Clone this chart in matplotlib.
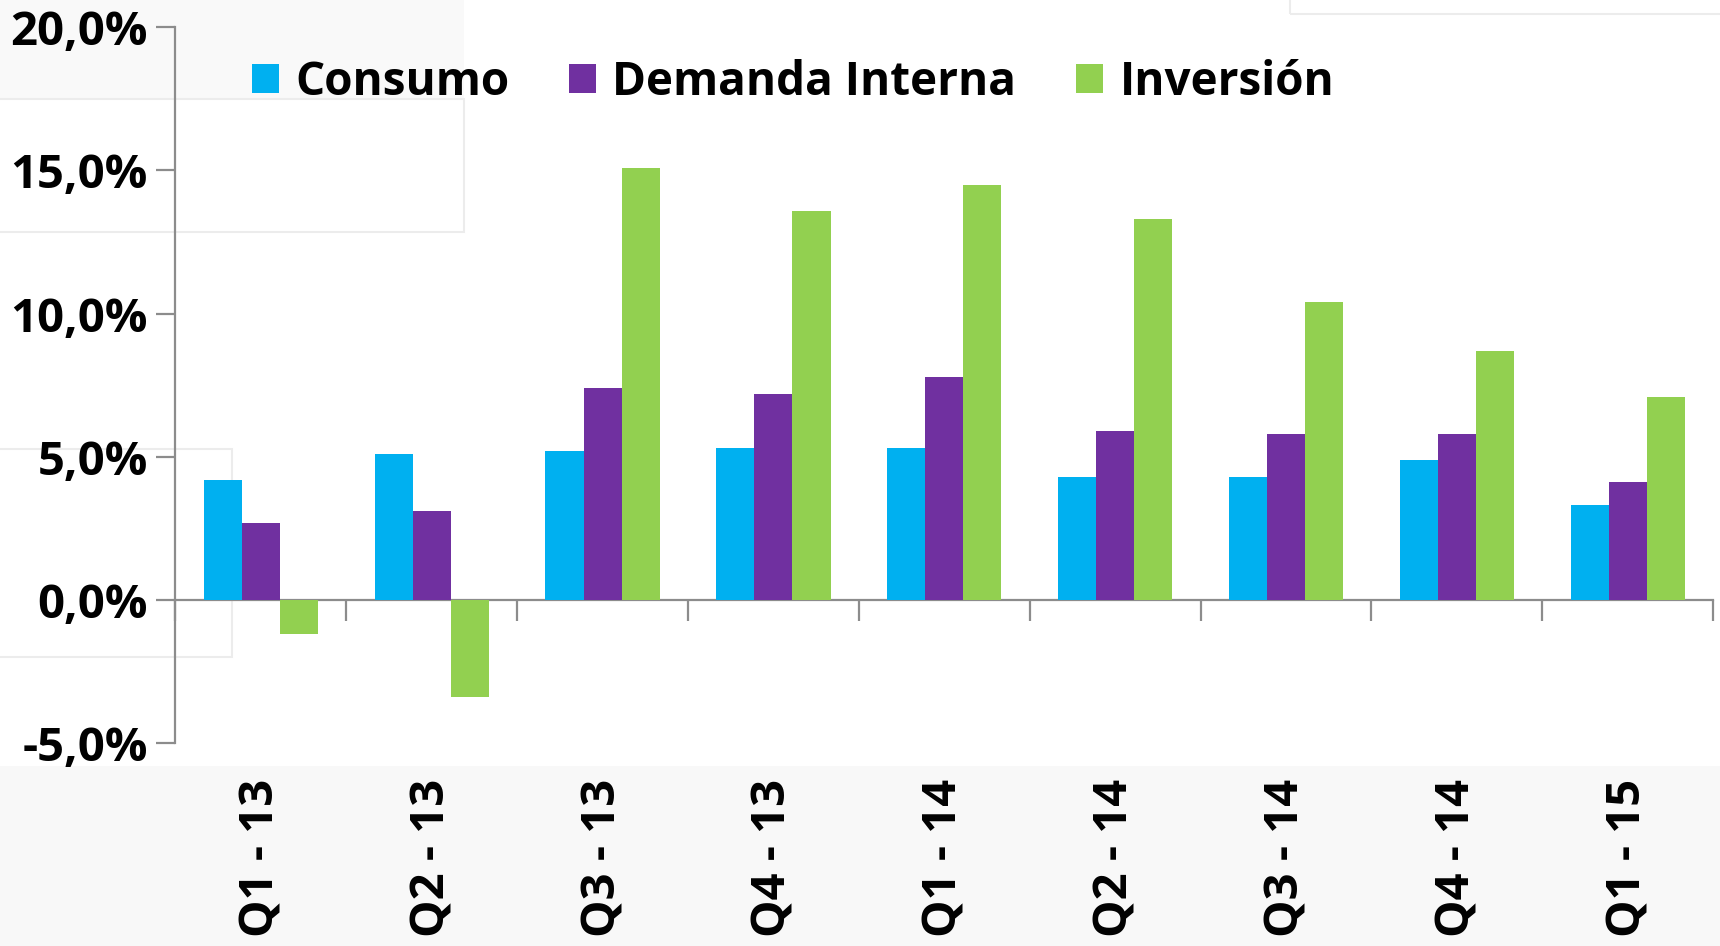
import numpy as np
import matplotlib
matplotlib.use("Agg")
import matplotlib.pyplot as plt
from matplotlib.patches import Rectangle
from matplotlib.ticker import FuncFormatter

# Data (% growth)
quarters = ["Q1 - 13", "Q2 - 13", "Q3 - 13", "Q4 - 13", "Q1 - 14",
            "Q2 - 14", "Q3 - 14", "Q4 - 14", "Q1 - 15"]
consumo = [4.2, 5.1, 5.2, 5.3, 5.3, 4.3, 4.3, 4.9, 3.3]
demanda_interna = [2.7, 3.1, 7.4, 7.2, 7.8, 5.9, 5.8, 5.8, 4.1]
inversion = [-1.2, -3.4, 15.1, 13.6, 14.5, 13.3, 10.4, 8.7, 7.1]

series_names = ["Consumo", "Demanda Interna", "Inversión"]
colors = ["#00B0F0", "#7030A0", "#92D050"]

plt.rcParams["font.family"] = ["Open Sans", "DejaVu Sans"]
plt.rcParams["font.weight"] = "bold"

fig = plt.figure(figsize=(17.2, 9.46), dpi=100)
fig.patch.set_facecolor("white")

# faint slide background blocks behind the chart
bg = "#ececec"
fig.patches.append(Rectangle((0, 0), 1, 0.19, transform=fig.transFigure,
                             facecolor="#f8f8f8", edgecolor="none", zorder=-10))
fig.patches.append(Rectangle((0, 0.895), 0.27, 0.105, transform=fig.transFigure,
                             facecolor="#f9f9f9", edgecolor="none", zorder=-10))
fig.patches.append(Rectangle((-0.01, 0.755), 0.28, 0.14, transform=fig.transFigure,
                             facecolor="none", edgecolor=bg, lw=1.5, zorder=-9))
fig.patches.append(Rectangle((-0.01, 0.305), 0.145, 0.22, transform=fig.transFigure,
                             facecolor="none", edgecolor=bg, lw=1.5, zorder=-9))
fig.patches.append(Rectangle((0.75, 0.985), 0.3, 0.05, transform=fig.transFigure,
                             facecolor="none", edgecolor=bg, lw=1.5, zorder=-9))

ax = fig.add_axes([0.102, 0.2146, 0.894, 0.7565])
ax.set_facecolor("none")

n = len(quarters)
x = np.arange(n)
width = 0.223
for i, (vals, name, col) in enumerate(zip([consumo, demanda_interna, inversion],
                                          series_names, colors)):
    ax.bar(x + (i - 1) * width, vals, width, color=col, label=name, zorder=3)

ax.set_xlim(-0.5, n - 0.5)
ax.set_ylim(-5, 20)
ax.set_yticks(np.arange(-5, 21, 5))
ax.yaxis.set_major_formatter(FuncFormatter(lambda v, p: f"{v:.1f}%".replace(".", ",")))

axis_col = "#8c8c8c"
for s in ["top", "right"]:
    ax.spines[s].set_visible(False)
ax.spines["left"].set_color(axis_col)
ax.spines["left"].set_linewidth(1.6)
ax.spines["bottom"].set_position(("data", 0))
ax.spines["bottom"].set_color(axis_col)
ax.spines["bottom"].set_linewidth(1.6)

ax.tick_params(axis="y", direction="out", length=14, width=1.6, color=axis_col,
               labelsize=34, pad=6)
ax.set_xticks(x)
ax.set_xticklabels([])
ax.tick_params(axis="x", which="major", length=0)
ax.set_xticks(np.arange(-0.5, n, 1), minor=True)
ax.tick_params(axis="x", which="minor", direction="out", length=15, width=1.6,
               color=axis_col)
for lbl in ax.get_yticklabels():
    lbl.set_fontweight("bold")

for xi, q in zip(x, quarters):
    ax.text(xi, -0.05, q, transform=ax.get_xaxis_transform(), rotation=90,
            ha="center", va="top", fontsize=34, fontweight="bold")

leg = fig.legend(loc="center", bbox_to_anchor=(0.461, 0.913), ncol=3,
                 frameon=False, prop={"size": 33, "weight": "bold"},
                 handlelength=0.6, handleheight=0.6, handletextpad=0.35,
                 columnspacing=1.3)

fig.savefig("out.png", dpi=100)
